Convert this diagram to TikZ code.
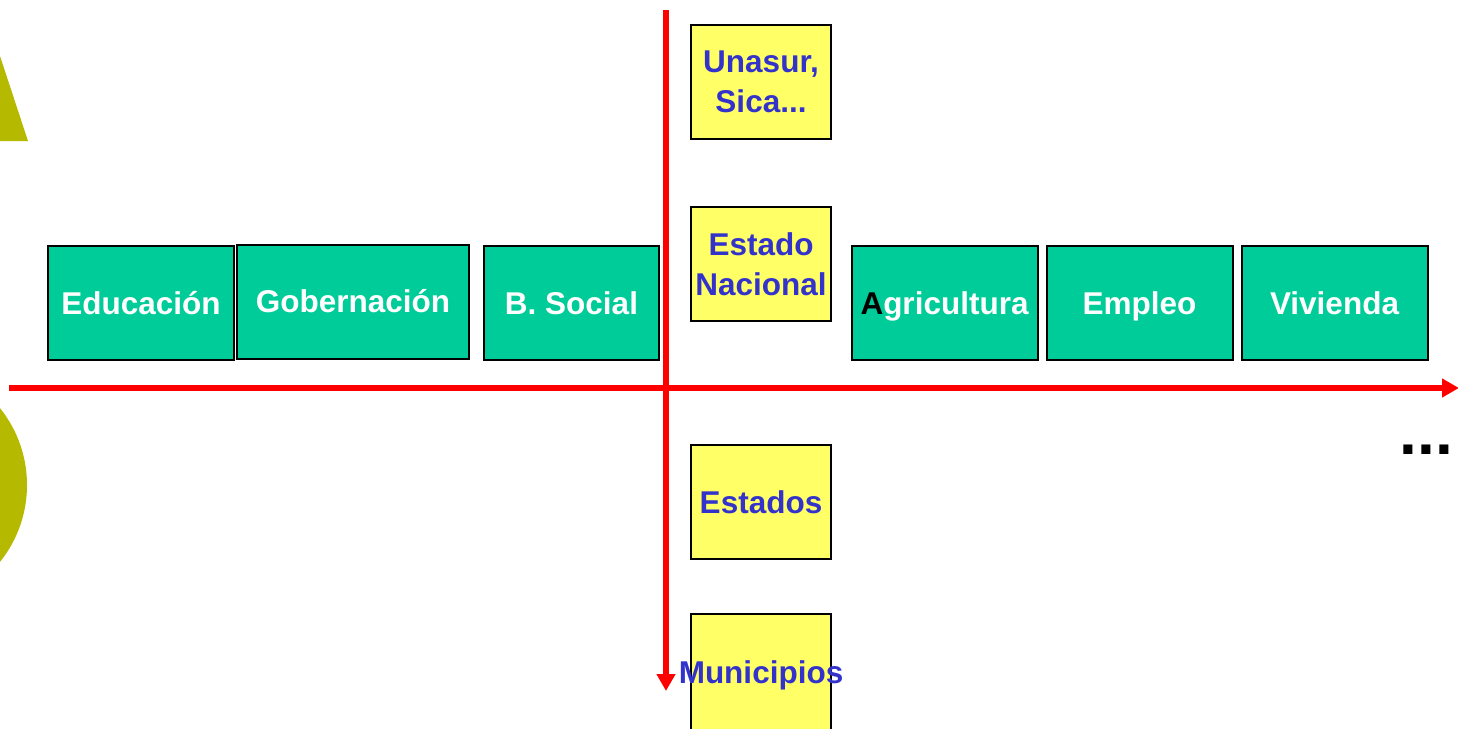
\documentclass[tikz,border=0pt]{standalone}
\usepackage{fontspec}
\setmainfont{Liberation Sans}
\usetikzlibrary{positioning,arrows.meta}

\definecolor{sectorgreen}{RGB}{0,204,153}
\definecolor{levelyellow}{RGB}{255,255,102}
\definecolor{levelblue}{RGB}{51,51,204}
\definecolor{fondoolive}{RGB}{181,186,0}

\tikzset{
  sector/.style={draw=black, line width=2pt, fill=sectorgreen, text=white,
    font=\bfseries\fontsize{31.5}{39.5}\selectfont,
    minimum width=186pt, minimum height=114pt, inner sep=0pt,
    text height=22pt, text depth=0pt},
  level/.style={draw=black, line width=2pt, fill=levelyellow, text=levelblue,
    font=\bfseries\fontsize{31.5}{39.5}\selectfont, align=center,
    minimum width=140pt, minimum height=114pt, inner sep=0pt},
  eje/.style={red, line width=6pt, ->}
}

\begin{document}
\begin{tikzpicture}[x=1pt, y=-1pt, >={Triangle[length=17pt,width=18pt]}]
		\clip (0,0) rectangle (1458,728);
		% fondo
		\fill[fondoolive] (0,56) -- (28,141) -- (0,141) -- cycle;
		\fill[fondoolive] (-96,485) circle (123pt);
		
		% sectores
		\node[sector]                      (S_1) at (141,303) {Educación};
		\node[sector, minimum width=232pt] (S_2) [right=1pt of S_1, yshift=1.5pt] {Gobernación};
		\node[sector, minimum width=175pt] (S_3) at (571.5,303) {B. Social};
		\node[sector]                      (S_4) at (944.5,303) {{\color{black}A}gricultura};
		\node[sector]                      (S_5) [right=7pt of S_4] {Empleo};
		\node[sector]                      (S_6) [right=7pt of S_5] {Vivienda};
		
		% niveles
		\node[level] (N_1) at (761,82) {Unasur,\\Sica...};
		\node[level] (N_2) [below=66pt of N_1] {Estado\\Nacional};
		\node[level] (N_3) [below=122pt of N_2] {Estados};
		\node[level, minimum height=122pt] (N_4) [below=53pt of N_3] {\makebox[0pt]{Municipios}};
		
		% ejes
		\coordinate (ejeW) at (9,388);
		\coordinate (ejeE) at (1459,388);
		\coordinate (ejeN) at (666,10);
		\coordinate (ejeS) at (666,691);
		\draw[eje] (ejeW) -- (ejeE);
		\draw[eje] (ejeN) -- (ejeS);
		
		\node[anchor=base west, inner sep=0pt, font=\bfseries\fontsize{64}{64}\selectfont] (puntos) at (1399.5,454) {...};
	\end{tikzpicture}
\end{document}
